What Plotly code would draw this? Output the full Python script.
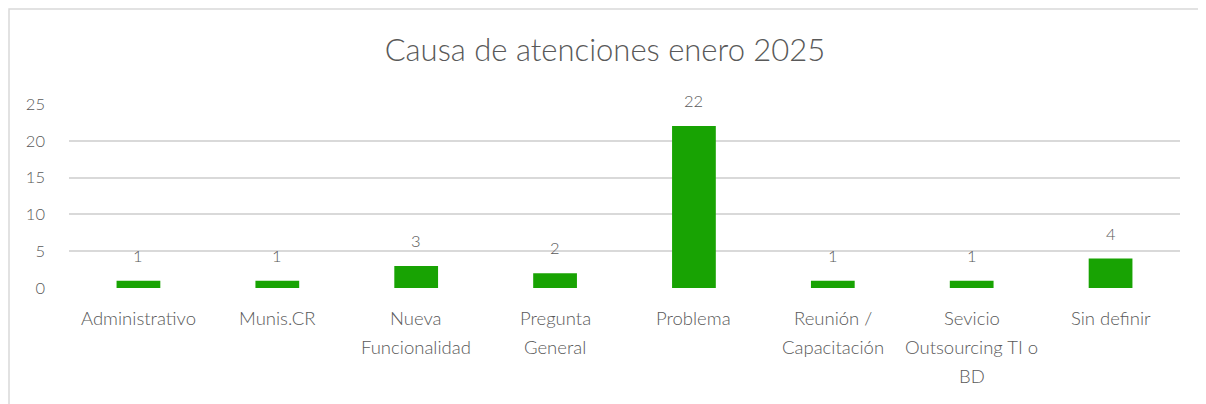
import plotly.graph_objects as go

# ---- data ----
categorias = ["Administrativo", "Munis.CR", "Nueva<br>Funcionalidad", "Pregunta<br>General",
              "Problema", "Reunión /<br>Capacitación", "Sevicio<br>Outsourcing TI o<br>BD", "Sin definir"]
atenciones = [1, 1, 3, 2, 22, 1, 1, 4]
y_ticks = [0, 5, 10, 15, 20, 25]

TXT = "#595959"
FONT = "Lato"
SMALL = 16.5

fig = go.Figure(go.Bar(
    x=list(range(len(categorias))),
    y=atenciones,
    marker=dict(color="#18A303", line=dict(width=0)),
    width=0.315,
    hoverinfo="x+y",
))

annotations = []
# data labels, Excel puts them a bit higher than plotly's "outside"
for i, v in enumerate(atenciones):
    annotations.append(dict(
        x=i, y=v, xref="x", yref="y", text=str(v), showarrow=False,
        yanchor="middle", yshift=25,
        font=dict(family=FONT, size=SMALL, color=TXT, weight=300),
    ))

# x labels as annotations (Excel-like line spacing)
for i, lab in enumerate(categorias):
    for j, line in enumerate(lab.split("<br>")):
        annotations.append(dict(
            x=i, y=0, xref="x", yref="y", text=line, showarrow=False,
            yanchor="middle", yshift=-30 - 29 * j,
            font=dict(family=FONT, size=18.5, color=TXT, weight=300),
        ))

fig.update_xaxes(range=[-0.5, len(categorias) - 0.5], showticklabels=False,
                 showgrid=False, zeroline=False, showline=False, ticks="")
fig.update_yaxes(range=[0, 25], tickvals=y_ticks, showgrid=True,
                 gridcolor="#d9d9d9", gridwidth=1.5, zeroline=False,
                 tickfont=dict(family=FONT, size=SMALL, color=TXT, weight=300), ticks="",
                 ticklabelstandoff=23)

fig.update_layout(
    title=dict(text="Causa de atenciones enero 2025", x=0.495, xref="container",
               xanchor="center", y=1 - 42 / 404, yanchor="middle",
               font=dict(family=FONT, size=31, color=TXT, weight=300)),
    width=1206, height=404,
    margin=dict(l=61, r=34, t=96, b=124),
    plot_bgcolor="white", paper_bgcolor="white",
    showlegend=False,
    annotations=annotations,
    shapes=[dict(type="rect", xref="paper", yref="paper",
                 x0=-0.054, x1=1.0225, y0=-1, y1=1.516,
                 line=dict(color="#d9d9d9", width=1.5), layer="below")],
)

fig.write_html("out.html")
